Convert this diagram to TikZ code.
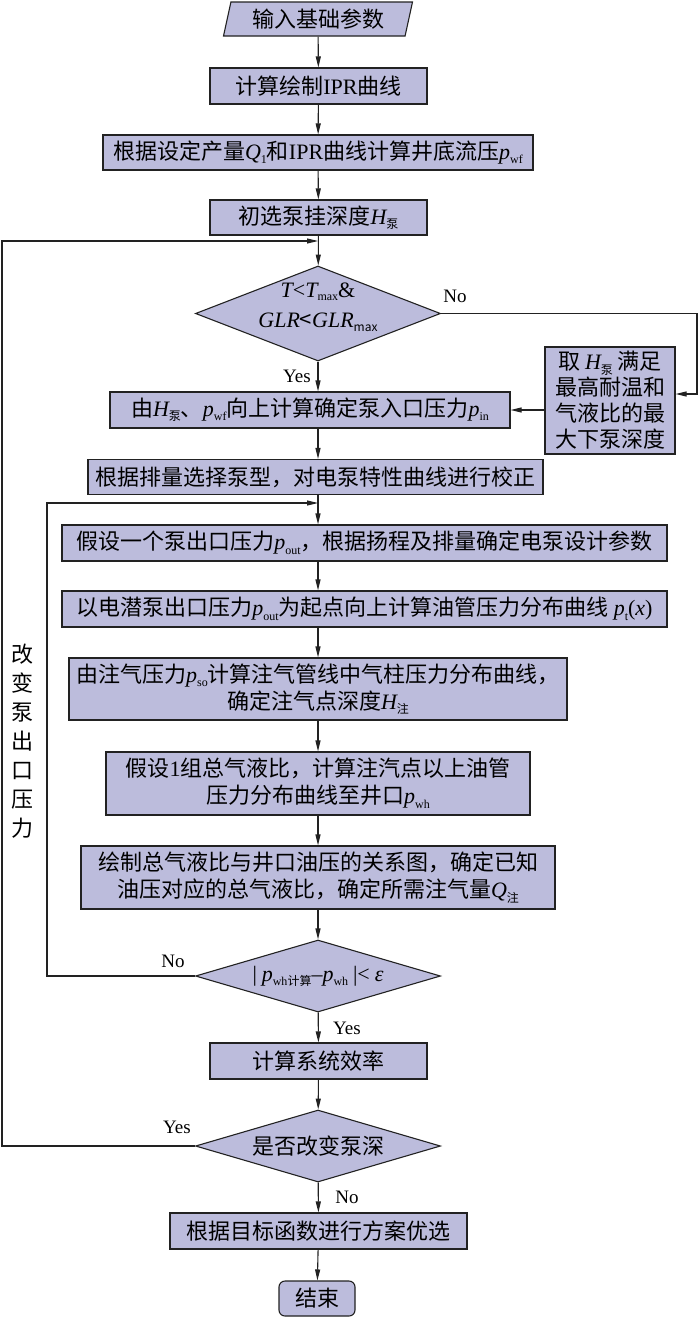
\documentclass[tikz,border=0pt]{standalone}
\usepackage{fontspec}
\setmainfont{Noto Sans CJK SC}
\newfontfamily\tnr{Liberation Serif}
\usetikzlibrary{shapes.geometric,arrows.meta}
\definecolor{boxc}{HTML}{BCBCDC}
\definecolor{linec}{HTML}{222222}
\newcommand\itv[1]{{\tnr\itshape #1}}
\newcommand\sbs[1]{\raisebox{-0.35ex}{\fontsize{12}{12}\selectfont #1}}
\tikzset{
  box/.style={draw=linec, fill=boxc, line width=1.1pt, inner sep=0pt, align=center,
    minimum height=36pt, font=\fontsize{22}{27}\selectfont},
  dia/.style={diamond, draw=linec, fill=boxc, line width=1.1pt, inner sep=0pt,
    minimum width=245pt, minimum height=72pt},
  diatext/.style={align=center, inner sep=0pt, font=\fontsize{22}{30}\selectfont},
  arr/.style={draw=linec, line width=1.1pt, -{Triangle[length=11pt,width=5pt]}},
  lbl/.style={inner sep=0pt, font=\tnr\fontsize{19}{19}\selectfont},
}
\begin{document}
\begin{tikzpicture}[x=1pt, y=-1pt]
  \useasboundingbox[fill=white] (0,0) rectangle (700,1317);

  \node[box, trapezium, trapezium left angle=70, trapezium right angle=110,
    trapezium stretches body, minimum width=189pt, minimum height=34pt] (in) at (318,19) {输入基础参数};
  \node[box, minimum width=217pt] (ipr) at (318.5,86) {计算绘制{\tnr IPR}曲线};
  \node[box, minimum width=430pt, minimum height=35pt] (pwf) at (318,152.5)
    {根据设定产量\itv{Q}\sbs{\tnr 1}和{\tnr IPR}曲线计算井底流压\itv{p}\sbs{\tnr wf}};
  \node[box, minimum width=217pt, minimum height=35pt] (hb) at (318.5,217.5) {初选泵挂深度\itv{H}\sbs{泵}};

  \node[dia, minimum height=95pt] (d1) at (318,313.5) {};
  \node[diatext] (d1t) at (318,307)
    {\tnr\itv{T}<\itv{T}\sbs{max}\&\\\itv{GLR}<\itv{GLR}\sbs{max}};
  \node[box, minimum width=130pt, minimum height=107pt, font=\fontsize{22}{26}\selectfont] (side) at (610,400.5)
    {取 \itv{H}\sbs{泵} 满足\\最高耐温和\\气液比的最\\大下泵深度};

  \node[box, minimum width=400pt] (pin) at (310,410)
    {由\itv{H}\sbs{泵}、\itv{p}\sbs{\tnr wf}向上计算确定泵入口压力\itv{p}\sbs{\tnr in}};
  \node[box, minimum width=455pt, minimum height=35pt] (pump) at (315.5,477) {根据排量选择泵型，对电泵特性曲线进行校正};
  \node[box, minimum width=605pt] (pout) at (364.5,543)
    {假设一个泵出口压力\itv{p}\sbs{\tnr out}，根据扬程及排量确定电泵设计参数};
  \node[box, minimum width=605pt] (tube) at (364.5,609)
    {以电潜泵出口压力\itv{p}\sbs{\tnr out}为起点向上计算油管压力分布曲线 \itv{p}\sbs{\tnr t}{\tnr(}\itv{x}{\tnr)}};
  \node[box, minimum width=498pt, minimum height=62pt] (gas) at (318,689)
    {由注气压力\itv{p}\sbs{\tnr so}计算注气管线中气柱压力分布曲线，\\确定注气点深度\itv{H}\sbs{注}};
  \node[box, minimum width=424pt, minimum height=63pt] (glr) at (318,783.5)
    {假设{\tnr 1}组总气液比，计算注汽点以上油管\\压力分布曲线至井口\itv{p}\sbs{\tnr wh}};
  \node[box, minimum width=474pt, minimum height=63pt] (qinj) at (318,877.5)
    {绘制总气液比与井口油压的关系图，确定已知\\油压对应的总气液比，确定所需注气量\itv{Q}\sbs{注}};

  \node[dia] (d2) at (318,976) {};
  \node[diatext] (d2t) at (318,976)
    {{\tnr |} \itv{p}\sbs{{\tnr wh}计算}{\tnr –}\itv{p}\sbs{\tnr wh} {\tnr |<} \itv{ε}};
  \node[box, minimum width=217pt] (eff) at (318.5,1061) {计算系统效率};
  \node[dia] (d3) at (318,1146) {};
  \node[diatext] (d3t) at (318,1146) {是否改变泵深};
  \node[box, minimum width=297pt] (opt) at (318.5,1231) {根据目标函数进行方案优选};
  \node[box, rounded corners=6pt, minimum width=76pt, minimum height=35pt] (end) at (317,1298.5) {结束};

  \node[align=center, inner sep=0pt, font=\fontsize{22}{29}\selectfont] (chg) at (22,741.5)
    {改\\变\\泵\\出\\口\\压\\力};

  % 连线
  \coordinate (ax) at (318,0);
  \coordinate (j1) at (318,241);
  \coordinate (j2) at (318,503);
  \coordinate (lft1) at (2,0);
  \coordinate (lft2) at (47,0);
  \coordinate (rgt) at (697,394);

  \draw[arr] (in) -- (ipr);
  \draw[arr] (ipr) -- (pwf);
  \draw[arr] (pwf) -- (hb);
  \draw[arr] (hb) -- (d1);
  \draw[arr] (d1.south) -- (ax |- pin.north);
  \draw[arr] (ax |- pin.south) -- (ax |- pump.north);
  \draw[arr] (ax |- pump.south) -- (ax |- pout.north);
  \draw[arr] (ax |- pout.south) -- (ax |- tube.north);
  \draw[arr] (ax |- tube.south) -- (gas.north);
  \draw[arr] (gas) -- (glr);
  \draw[arr] (glr) -- (qinj);
  \draw[arr] (qinj) -- (d2);
  \draw[arr] (d2) -- (eff);
  \draw[arr] (eff) -- (d3);
  \draw[arr] (d3) -- (opt);
  \draw[arr] (opt) -- (end);

  \draw[arr] (d1.east) -| (rgt) -- (rgt -| side.east);
  \draw[arr] (side.west |- pin.east) -- (pin.east);
  \draw[arr] (d2.west) -| (lft2 |- j2) -- (j2);
  \draw[arr] (d3.west) -| (lft1 |- j1) -- (j1);

  \node[lbl] (no1) at (455,296) {No};
  \node[lbl] (yes1) at (297,376) {Yes};
  \node[lbl] (no2) at (173,961) {No};
  \node[lbl] (yes2) at (347,1028) {Yes};
  \node[lbl] (yes3) at (177,1127) {Yes};
  \node[lbl] (no3) at (347,1197) {No};
\end{tikzpicture}
\end{document}
